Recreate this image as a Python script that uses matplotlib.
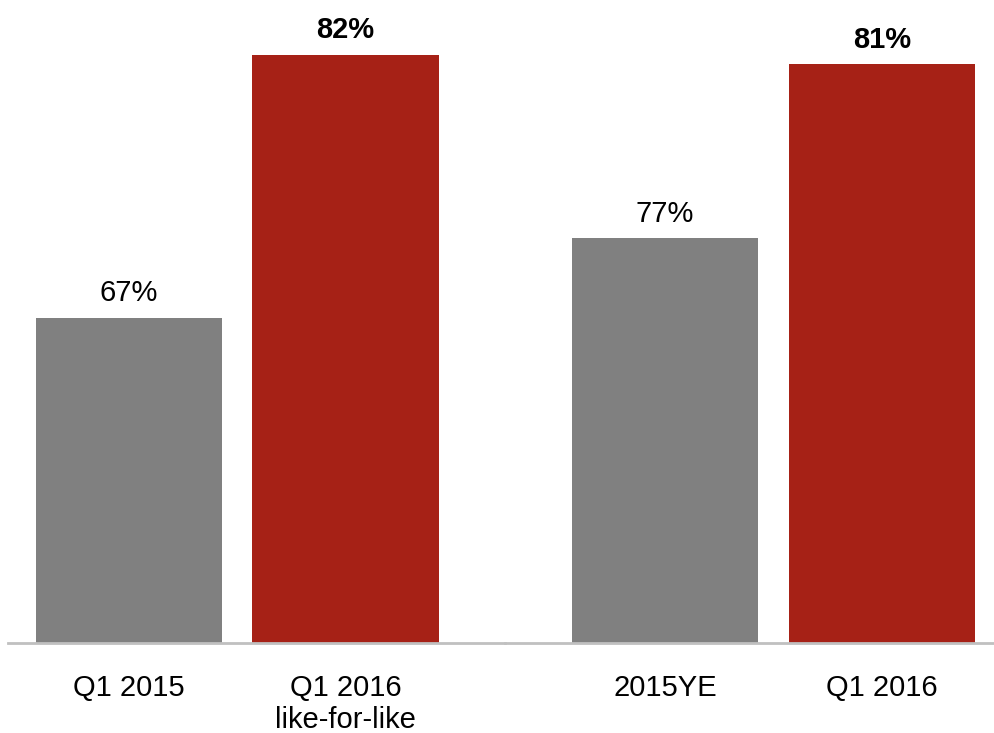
import matplotlib
matplotlib.use("Agg")
import matplotlib.pyplot as plt

plt.rcParams['font.family'] = ['Liberation Sans', 'DejaVu Sans']

left_labels = ["Q1 2015", "Q1 2016\nlike-for-like"]
left_values = [67, 82]
right_labels = ["2015YE", "Q1 2016"]
right_values = [77, 81]
colors = ["#808080", "#A62116"]
bold = [False, True]

W, H = 995, 733
fig = plt.figure(figsize=(W / 100, H / 100), dpi=100)

base_px = 643
def make_ax(x0, x1):
    return fig.add_axes([x0 / W, (H - base_px) / H, (x1 - x0) / W, base_px / H])

ax1 = make_ax(8, 505)
ax2 = make_ax(505, 995)

def draw(ax, labels, values, xlim, ylim):
    xs = list(range(len(values)))
    bars = ax.bar(xs, values, width=0.86, color=colors, zorder=2)
    ax.set_xlim(*xlim)
    ax.set_ylim(*ylim)
    for b, v, bd in zip(bars, values, bold):
        ax.annotate(f"{v}%", (b.get_x() + b.get_width() / 2, v),
                    xytext=(0, 12), textcoords="offset points",
                    ha="center", va="baseline", fontsize=21,
                    fontweight="bold" if bd else "normal", color="black")
    ax.set_xticks(xs)
    ax.set_xticklabels(labels, fontsize=21, linespacing=1.22)
    ax.tick_params(axis="x", length=0, pad=22)
    ax.set_yticks([])
    for s in ["top", "left", "right"]:
        ax.spines[s].set_visible(False)
    ax.spines["bottom"].set_color("#C0C0C0")
    ax.spines["bottom"].set_linewidth(2)
    ax.patch.set_alpha(0)

draw(ax1, left_labels, left_values, (-0.559, 1.737), (48.46, 85.14))
draw(ax2, right_labels, right_values, (-0.737, 1.521), (67.7, 82.48))

fig.savefig("out.png", dpi=100)
